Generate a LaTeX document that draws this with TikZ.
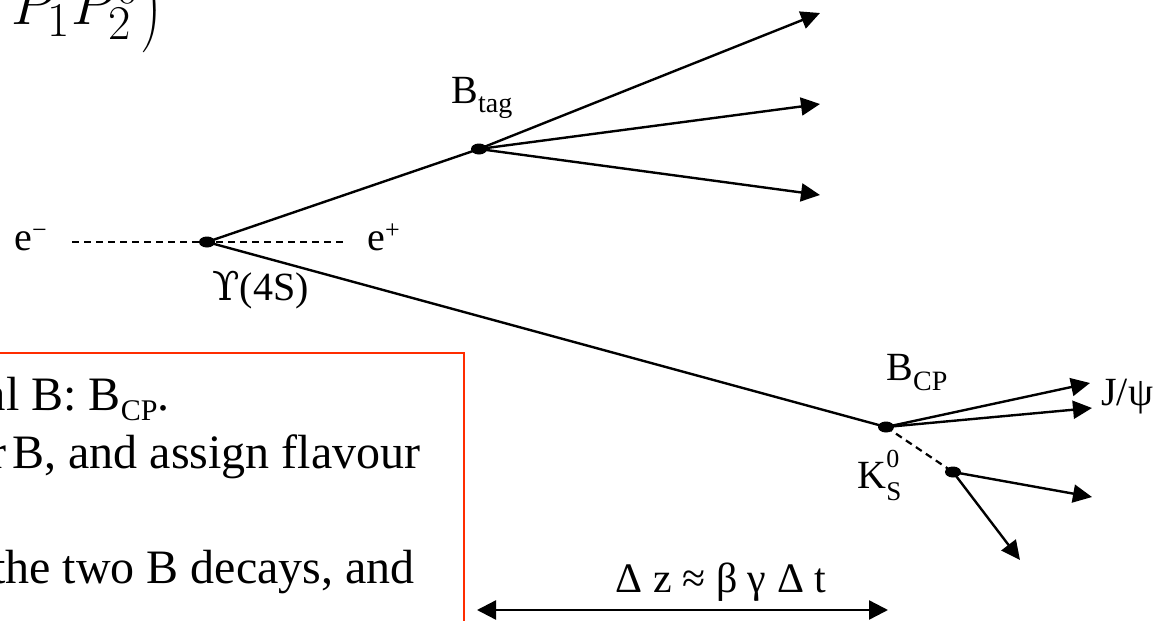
\documentclass[tikz,border=0pt]{standalone}
\usepackage[no-math]{fontspec}
\usepackage{graphicx}
\setmainfont{Liberation Serif}
\newfontfamily\dvserif{DejaVu Serif}
\usetikzlibrary{arrows.meta,shapes.geometric}
\definecolor{boxred}{RGB}{255,45,0}
\newcommand\mysupr[1]{\raisebox{6pt}{\fontsize{13}{13}\selectfont #1}}
\newcommand\mysubl[1]{\raisebox{-5pt}{\fontsize{14}{14}\selectfont #1}}
\begin{document}
\begin{tikzpicture}[x=0.5pt,y=-0.5pt,
  lbl/.style={inner sep=0pt, anchor=base west, font=\fontsize{20}{24}\selectfont},
  boxtxt/.style={inner sep=0pt, anchor=base east, font=\fontsize{24}{29}\selectfont},
  vtx/.style={ellipse, fill=black, inner sep=0pt, minimum width=8pt, minimum height=5.5pt},
  track/.style={line width=1.2pt},
  arr/.style={track, -{Triangle[length=9.5pt,width=9pt]}},
  dblarr/.style={track, {Triangle[length=9.5pt,width=9.5pt]}-{Triangle[length=9.5pt,width=9.5pt]}},
  beamline/.style={line width=1.1pt, dash pattern=on 3.5pt off 2.5pt}]
\useasboundingbox (0,0) rectangle (1158,621);
\clip (0,0) rectangle (1158,621);

% vertices
\node[vtx] (ups) at (207,242) {};
\node[vtx] (btag) at (479,149) {};
\node[vtx] (bcp) at (886,427) {};
\node[vtx] (ks) at (953,472) {};

% free ends
\coordinate (eL) at (72,242);
\coordinate (eR) at (343,242);
\coordinate (t1) at (820,13);
\coordinate (t2) at (820,104);
\coordinate (t3) at (820,195);
\coordinate (j1) at (1090,383);
\coordinate (j2) at (1092,408);
\coordinate (k1) at (1092,497);
\coordinate (k2) at (1020,560);
\coordinate (dzL) at (477,610);
\coordinate (dzR) at (888,610);

% tracks
\draw[beamline] (eL) -- (eR);
\draw[track] (ups.center) -- (btag.center);
\draw[track] (ups.center) -- (bcp.center);
\draw[arr] (btag.center) -- (t1);
\draw[arr] (btag.center) -- (t2);
\draw[arr] (btag.center) -- (t3);
\draw[arr] (bcp.center) -- (j1);
\draw[arr] (bcp.center) -- (j2);
\draw[beamline] (bcp.center) -- (ks.center);
\draw[arr] (ks.center) -- (k1);
\draw[arr] (ks.center) -- (k2);
\draw[dblarr] (dzL) -- (dzR);

% labels
\node[lbl] (em) at (14,250) {e\mysupr{−}};
\node[lbl] (ep) at (367,250) {e\mysupr{+}};
\node[lbl] (upsl) at (212,300) {{\dvserif ϒ}(4S)};
\node[lbl] (btagl) at (451,103) {B\mysubl{tag}};
\node[lbl] (bcpl) at (886,380) {B\mysubl{CP}};
\node[lbl] (jpsi) at (1101,405) {J/ψ};
\node[lbl] (ksl) at (857,488) {K\rlap{\raisebox{10.5pt}{\fontsize{13}{13}\selectfont 0}}\raisebox{-6pt}{\fontsize{13.5}{13.5}\selectfont S}};
\node[lbl, anchor=base, font=\fontsize{21}{25}\selectfont] (dz) at (721,592) {Δ z ≈ β γ Δ t};

% formula fragment
\node[inner sep=0pt, anchor=base east, font=\fontsize{24.88}{30}\selectfont] (formula) at (163,25) {\scalebox{1.17}{\nulldelimiterspace=0pt$\mathord{}-P_1P_2^{0}\kern-3pt\left.\rule[-13pt]{0pt}{36pt}\right)$}};

% red box with text
\draw[boxred, line width=1pt] (-10,353) -- (464,353) -- (464,640);
\node[boxtxt] (l1) at (170,410) {al B: B\raisebox{-5pt}{\fontsize{15}{15}\selectfont CP}.};
\node[boxtxt] (l2) at (421,468) {r\kern-3pt{} B, and assign flavour};
\node[boxtxt] (l3) at (415,583) {the two B decays, and};
\end{tikzpicture}
\end{document}
